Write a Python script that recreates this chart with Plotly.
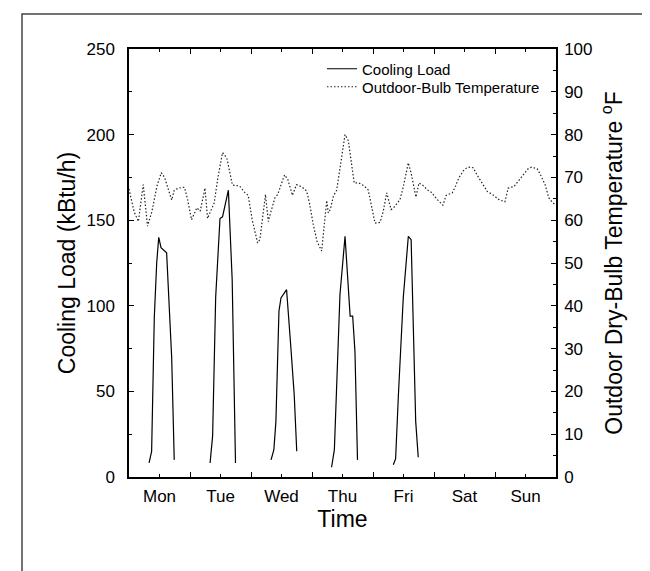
import plotly.graph_objects as go

# ---------------- data ----------------
day_labels = ["Mon", "Tue", "Wed", "Thu", "Fri", "Sat", "Sun"]
day_label_hours = [12, 36, 60, 84, 108, 132, 156]
day_boundary_hours = [0, 24, 48, 72, 96, 120, 144, 168]

# Outdoor dry-bulb temperature (deg F) vs hour of week
temp_hours = [0, 1, 2, 3.7, 5.6, 7.3, 9, 11, 12.7, 14, 15.5, 16.8, 17.8, 19.5, 21.8, 23,
              24.6, 26.7, 28, 29.9, 30.9, 32.5, 33.5, 35, 36.8, 38.5, 40.7, 43.5, 45.5, 46.9,
              48.5, 50.6, 51.5, 53.7, 54.8, 55.6, 57.4, 58.5, 60, 61.2, 62.5, 64.3, 65.9, 68,
              69.9, 71, 72.5, 74, 75.8, 77.8, 78.4, 79.2, 80.4, 81.7, 83.5, 85, 86.3, 87.5,
              88.6, 90.4, 92.5, 94.1, 95.5, 96.8, 98.8, 100, 101.4, 103.1, 104, 106.6, 107.8,
              109.9, 111, 112.9, 114.1, 115.5, 117.4, 119, 121, 123.5, 124.8, 127.2, 128.5,
              129.8, 131.5, 133, 134.4, 135.5, 137, 139, 141, 143, 145.6, 147.9, 149.2, 151.5,
              153, 154.1, 155.8, 157, 158.4, 160.6, 162, 163.7, 165.2, 166.5, 168]
temp_values = [67.3, 65, 62, 59.7, 68.3, 58.6, 62, 68, 71.1, 70, 67, 64.7, 67, 67.5, 67.7, 65,
               60.1, 62.9, 62.1, 67.5, 60.4, 62.9, 64, 70, 75.8, 74.5, 68.2, 68, 66.5, 65.8,
               60, 54.7, 55.5, 66, 59.7, 61.5, 65.2, 66, 68.5, 70.6, 69.5, 65.8, 68.3, 67.8,
               66.8, 64, 59, 55, 52.8, 64.6, 61.7, 62.5, 65.6, 67, 74, 80, 78.6, 73,
               68.7, 68.7, 68, 67.1, 63, 59.3, 59.5, 62, 66.4, 62.5, 62.8, 64.8, 67.5,
               73.4, 71, 65.4, 68.7, 68.2, 67.1, 66.5, 65, 63.5, 65.8, 66.4, 68,
               69.9, 71.5, 72.3, 72.4, 72.2, 70.5, 68.7, 66.7, 66, 64.8, 64.3, 67.5, 67.9,
               69, 69.9, 71.2, 72, 72.4, 72, 70.5, 68.3, 65.2, 64.2, 63.5]

# Cooling load (kBtu/h), one occupied period per weekday
load_mon_hours = [7.9, 8.9, 9.95, 10.9, 11.7, 12.6, 14.8, 16.8, 17.8]
load_mon_values = [8.2, 15, 93, 125, 140, 134, 131, 69.5, 10]
load_tue_hours = [31.9, 32.9, 34.1, 35.8, 36.8, 39.1, 40.6, 41.9]
load_tue_values = [8.2, 24, 105, 151, 152, 167.5, 115, 8.2]
load_wed_hours = [55.9, 57, 57.8, 59, 59.8, 62, 63.7, 65, 66]
load_wed_values = [10, 16, 32.5, 97, 104.6, 109.4, 75.4, 48, 15]
load_thu_hours = [79.7, 80.8, 83, 85, 87, 88, 88.9, 89.9]
load_thu_values = [5.7, 16, 106.5, 140.6, 94, 94, 73.4, 10]
load_fri_hours = [104, 104.9, 106, 107.9, 109.9, 111, 112.8, 113.8]
load_fri_values = [7.2, 10.7, 48, 104.6, 140.6, 138.6, 32.5, 11.5]

load_hours = (load_mon_hours + [None] + load_tue_hours + [None] + load_wed_hours + [None]
              + load_thu_hours + [None] + load_fri_hours)
load_values = (load_mon_values + [None] + load_tue_values + [None] + load_wed_values + [None]
               + load_thu_values + [None] + load_fri_values)

# ---------------- figure ----------------
FONT = "Liberation Sans, Arial, Helvetica, sans-serif"

fig = go.Figure()
fig.add_trace(go.Scatter(
    x=load_hours, y=load_values, mode="lines", name="Cooling Load",
    line=dict(color="black", width=1.2), connectgaps=False, yaxis="y",
    legend="legend"))
fig.add_trace(go.Scatter(
    x=temp_hours, y=temp_values, mode="lines", name="Outdoor-Bulb Temperature",
    line=dict(color="#222222", width=1.2, dash="1.5px,2px"), yaxis="y2",
    legend="legend2"))

W, H = 650, 571
L, R, T, B = 121, 548, 41, 469
pw, ph = R - L, B - T

def px_x(v):
    return (v - L) / pw

def px_y(v):
    return (B - v) / ph

legend_common = dict(xanchor="left", yanchor="middle", bgcolor="rgba(0,0,0,0)",
                     borderwidth=0, font=dict(size=15, family=FONT))

fig.update_layout(
    width=W, height=H,
    margin=dict(l=L, r=W - R, t=T, b=H - B, pad=0),
    paper_bgcolor="white", plot_bgcolor="white",
    font=dict(family=FONT, color="black", size=17),
    showlegend=True,
    legend=dict(x=px_x(314), y=px_y(61), **legend_common),
    legend2=dict(x=px_x(314), y=px_y(79), **legend_common),
    xaxis=dict(range=[0, 168], showgrid=False, zeroline=False,
               showline=True, linecolor="black", linewidth=1.5, mirror="ticks",
               tickmode="array", tickvals=day_label_hours, ticktext=day_labels,
               ticks="inside", ticklen=3, tickwidth=1, tickcolor="black",
               ticklabelstandoff=3,
               minor=dict(tickmode="array", tickvals=day_boundary_hours,
                          ticks="inside", ticklen=5, tickwidth=1, tickcolor="black"),
               title=dict(text="Time", font=dict(size=23), standoff=0),
               automargin=False, fixedrange=True),
    yaxis=dict(range=[0, 250], showgrid=False, zeroline=False,
               showline=True, linecolor="black", linewidth=1.5,
               tickmode="linear", tick0=0, dtick=50,
               ticks="inside", ticklen=5, tickwidth=1, tickcolor="black",
               ticklabelstandoff=9,
               minor=dict(dtick=25, ticks="inside", ticklen=3, tickwidth=1, tickcolor="black"),
               title=dict(text="Cooling Load (kBtu/h)", font=dict(size=23), standoff=4),
               automargin=False),
    yaxis2=dict(range=[0, 100], overlaying="y", side="right", showgrid=False, zeroline=False,
                showline=True, linecolor="black", linewidth=1.5,
                tickmode="linear", tick0=0, dtick=10,
                ticks="inside", ticklen=5, tickwidth=1, tickcolor="black",
                ticklabelstandoff=3,
                minor=dict(dtick=5, ticks="inside", ticklen=3, tickwidth=1, tickcolor="black"),
                title=dict(text="Outdoor Dry-Bulb Temperature <sup>o</sup>F",
                           font=dict(size=23), standoff=14),
                automargin=False),
    shapes=[dict(type="rect", xref="paper", yref="paper",
                 x0=px_x(14), x1=px_x(647), y0=px_y(590), y1=px_y(6),
                 line=dict(color="#444444", width=1.5), fillcolor="rgba(0,0,0,0)",
                 layer="below")],
)

fig.write_html("out.html")
